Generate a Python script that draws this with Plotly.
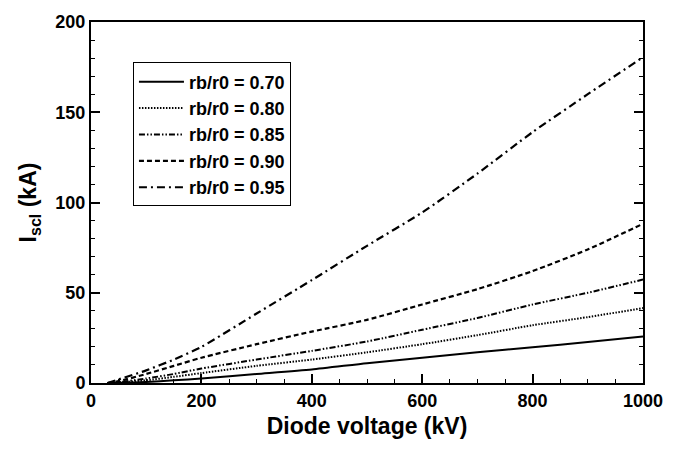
import plotly.graph_objects as go

# Diode voltage (kV)
voltage = [30, 50, 100, 150, 200, 300, 400, 500, 600, 700, 800, 900, 1000]

# Space-charge-limited current (kA) for each rb/r0
isc_070 = [0, 0.1, 0.6, 1.5, 2.5, 5.0, 7.5, 11.0, 14.0, 17.0, 19.8, 22.7, 25.8]
isc_080 = [0, 0.3, 1.5, 3.4, 5.5, 9.5, 13.0, 17.0, 21.5, 26.5, 32.0, 36.5, 41.5]
isc_085 = [0, 0.5, 2.5, 5.0, 8.0, 13.0, 17.8, 23.0, 29.5, 36.0, 43.5, 50.0, 57.3]
isc_090 = [0, 1.0, 5.0, 9.5, 14.0, 21.5, 28.5, 35.0, 43.5, 52.0, 62.0, 74.0, 88.2]
isc_095 = [0, 2.0, 7.0, 13.0, 20.0, 38.5, 57.0, 76.0, 94.5, 116.0, 139.0, 160.0, 180.5]

labels = ["rb/r0 = 0.70", "rb/r0 = 0.80", "rb/r0 = 0.85", "rb/r0 = 0.90", "rb/r0 = 0.95"]
series = [isc_070, isc_080, isc_085, isc_090, isc_095]
dashes = ["solid", "1.5px,1.5px", "6px,2px,1.5px,2px,1.5px,2px", "5px,3px", "8px,4px,2px,4px"]
widths = [2, 2, 2, 2.2, 2.2]

fig = go.Figure()
for lab, ys, d, w in zip(labels, series, dashes, widths):
    fig.add_trace(go.Scatter(x=voltage, y=ys, mode="lines", name=lab,
                             line=dict(color="black", width=w, dash=d,
                                       shape="spline", smoothing=0.6)))

font_b = dict(family="Liberation Sans, Arial, sans-serif", color="black", weight="bold")

fig.update_layout(
    width=676, height=449,
    margin=dict(l=91, r=33, t=17, b=66),
    paper_bgcolor="white", plot_bgcolor="white",
    showlegend=True,
    legend=dict(x=0.076, y=0.888, xanchor="left", yanchor="top",
                bgcolor="white", bordercolor="black", borderwidth=1,
                itemwidth=45,
                font=dict(size=18, **font_b), tracegroupgap=0),
    xaxis=dict(range=[0, 1000], tickvals=[0, 200, 400, 600, 800, 1000],
               ticks="inside", ticklen=9, tickwidth=1.5, tickcolor="black",
               minor=dict(dtick=50, ticks="inside", ticklen=4, tickwidth=1, tickcolor="black"),
               showgrid=False, zeroline=False,
               showline=True, linecolor="black", linewidth=2, mirror=True,
               tickfont=dict(size=18, **font_b),
               title=dict(text="Diode voltage (kV)", font=dict(size=23, **font_b), standoff=8)),
    yaxis=dict(range=[0, 200], tickvals=[0, 50, 100, 150, 200],
               ticks="inside", ticklen=9, tickwidth=1.5, tickcolor="black",
               minor=dict(dtick=10, ticks="inside", ticklen=4, tickwidth=1, tickcolor="black"),
               showgrid=False, zeroline=False,
               showline=True, linecolor="black", linewidth=2, mirror="allticks",
               tickfont=dict(size=18, **font_b),
               title=dict(text="I<sub>scl</sub> (kA)", font=dict(size=23, **font_b), standoff=12)),
)

fig.write_html("out.html")
